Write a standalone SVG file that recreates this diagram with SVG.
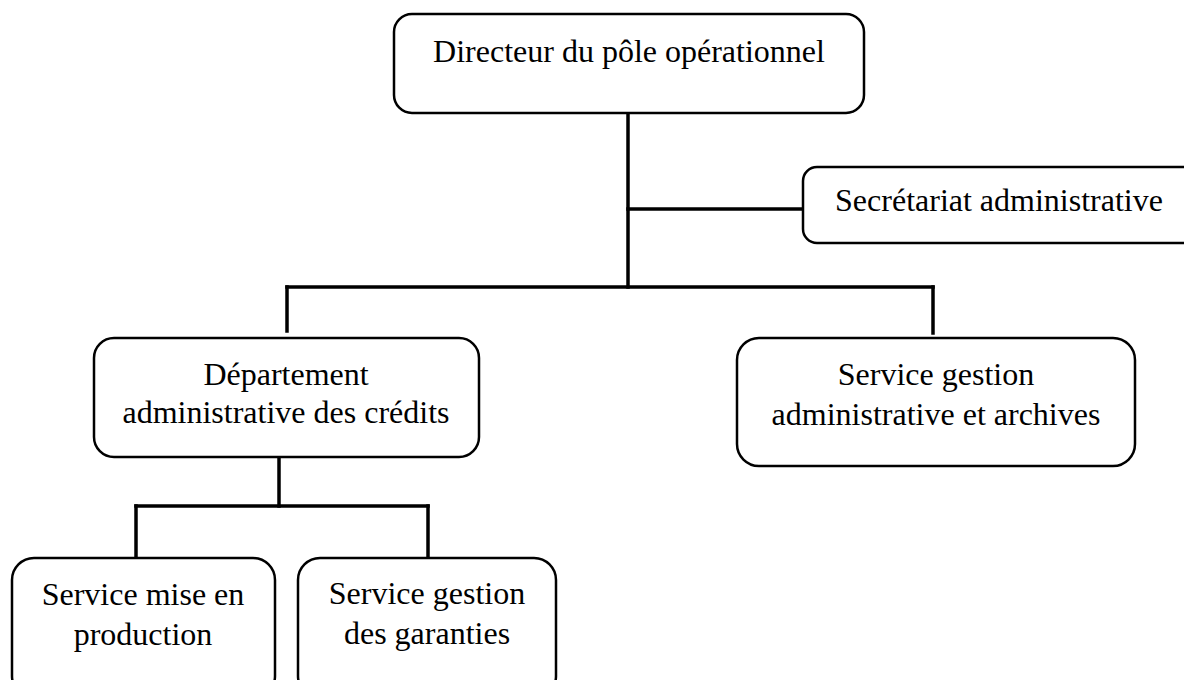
<svg xmlns="http://www.w3.org/2000/svg" width="1184" height="680" viewBox="0 0 1184 680">
  <style>
    .box { fill: #ffffff; stroke: #000000; stroke-width: 2.5; }
    .lbl { font-family: "Liberation Serif", "Times New Roman", serif; font-size: 32px; fill: #000000; text-anchor: middle; }
    .wire { fill: none; stroke: #000000; stroke-width: 3.5; stroke-linecap: square; }
  </style>
  <rect width="1184" height="680" fill="#ffffff"/>

  <g id="connectors">
    <path class="wire" d="M628 114 V287"/>
    <path class="wire" d="M628 209 H802"/>
    <path class="wire" d="M287 287 H933"/>
    <path class="wire" d="M287 287 V331"/>
    <path class="wire" d="M933 287 V333"/>
    <path class="wire" d="M279 458 V506"/>
    <path class="wire" d="M136 506 H428"/>
    <path class="wire" d="M136 506 V556"/>
    <path class="wire" d="M428 506 V556"/>
  </g>

  <g id="directeur">
    <rect class="box" x="394" y="14" width="470" height="99" rx="18"/>
    <text class="lbl" x="629" y="62">Directeur du pôle opérationnel</text>
  </g>

  <g id="secretariat">
    <rect class="box" x="803" y="167" width="400" height="76" rx="14"/>
    <text class="lbl" x="999" y="211">Secrétariat administrative</text>
  </g>

  <g id="departement">
    <rect class="box" x="94" y="338" width="385" height="119" rx="20"/>
    <text class="lbl" x="286" y="385">Département</text>
    <text class="lbl" x="286" y="423">administrative des crédits</text>
  </g>

  <g id="service-gestion-archives">
    <rect class="box" x="737" y="338" width="398" height="128" rx="22"/>
    <text class="lbl" x="936" y="385">Service gestion</text>
    <text class="lbl" x="936" y="425">administrative et archives</text>
  </g>

  <g id="service-production">
    <rect class="box" x="12" y="558" width="263" height="140" rx="22"/>
    <text class="lbl" x="143" y="605">Service mise en</text>
    <text class="lbl" x="143" y="645">production</text>
  </g>

  <g id="service-garanties">
    <rect class="box" x="298" y="558" width="258" height="140" rx="22"/>
    <text class="lbl" x="427" y="604">Service gestion</text>
    <text class="lbl" x="427" y="644">des garanties</text>
  </g>
</svg>
